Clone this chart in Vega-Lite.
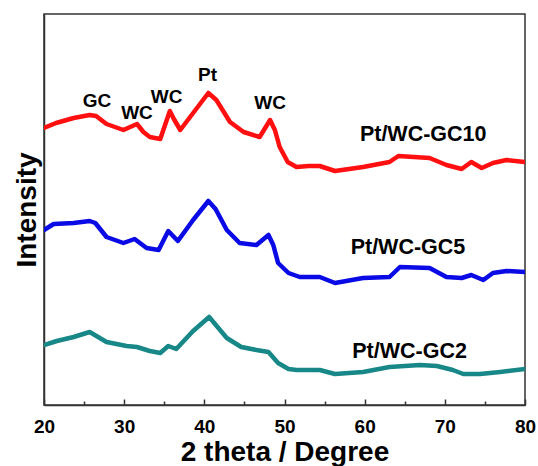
{
  "$schema": "https://vega.github.io/schema/vega-lite/v6.json",
  "autosize": "none",
  "width": 481,
  "height": 391,
  "padding": {"left": 44, "top": 14, "right": 13, "bottom": 61},
  "background": "white",
  "config": {
    "view": {"stroke": "#333333", "strokeWidth": 1.5},
    "font": "Liberation Sans"
  },
  "datasets": {
    "curves": [
      {"s": "GC10", "x": 20, "y": 277}, {"s": "GC10", "x": 21.5, "y": 282}, {"s": "GC10", "x": 23.7, "y": 287}, {"s": "GC10", "x": 25.7, "y": 290}, {"s": "GC10", "x": 26.5, "y": 289}, {"s": "GC10", "x": 27.8, "y": 281}, {"s": "GC10", "x": 29.9, "y": 275}, {"s": "GC10", "x": 31.6, "y": 281}, {"s": "GC10", "x": 32.4, "y": 273}, {"s": "GC10", "x": 33.2, "y": 268}, {"s": "GC10", "x": 34.5, "y": 266}, {"s": "GC10", "x": 35.7, "y": 294}, {"s": "GC10", "x": 36.2, "y": 286}, {"s": "GC10", "x": 37.0, "y": 275}, {"s": "GC10", "x": 38.7, "y": 293}, {"s": "GC10", "x": 40.5, "y": 312}, {"s": "GC10", "x": 41.5, "y": 305}, {"s": "GC10", "x": 43.2, "y": 283}, {"s": "GC10", "x": 44.9, "y": 273}, {"s": "GC10", "x": 46.9, "y": 268}, {"s": "GC10", "x": 48.2, "y": 285}, {"s": "GC10", "x": 48.8, "y": 275}, {"s": "GC10", "x": 49.4, "y": 258}, {"s": "GC10", "x": 50.4, "y": 243}, {"s": "GC10", "x": 51.5, "y": 238}, {"s": "GC10", "x": 53.0, "y": 239}, {"s": "GC10", "x": 54.4, "y": 239}, {"s": "GC10", "x": 56.3, "y": 234}, {"s": "GC10", "x": 59.8, "y": 238}, {"s": "GC10", "x": 63.1, "y": 243}, {"s": "GC10", "x": 64.2, "y": 249}, {"s": "GC10", "x": 68.1, "y": 247}, {"s": "GC10", "x": 70.2, "y": 240}, {"s": "GC10", "x": 72.1, "y": 236}, {"s": "GC10", "x": 73.3, "y": 243}, {"s": "GC10", "x": 74.6, "y": 237}, {"s": "GC10", "x": 76.0, "y": 242}, {"s": "GC10", "x": 77.7, "y": 245}, {"s": "GC10", "x": 80, "y": 243},
      {"s": "GC5", "x": 20, "y": 175}, {"s": "GC5", "x": 21.2, "y": 181}, {"s": "GC5", "x": 23.7, "y": 182}, {"s": "GC5", "x": 25.7, "y": 184}, {"s": "GC5", "x": 26.4, "y": 182}, {"s": "GC5", "x": 27.8, "y": 168}, {"s": "GC5", "x": 29.9, "y": 162}, {"s": "GC5", "x": 31.3, "y": 166}, {"s": "GC5", "x": 32.8, "y": 157}, {"s": "GC5", "x": 34.3, "y": 155}, {"s": "GC5", "x": 35.5, "y": 174}, {"s": "GC5", "x": 36.7, "y": 164}, {"s": "GC5", "x": 38.6, "y": 185}, {"s": "GC5", "x": 40.5, "y": 204}, {"s": "GC5", "x": 41.4, "y": 196}, {"s": "GC5", "x": 42.8, "y": 175}, {"s": "GC5", "x": 44.4, "y": 162}, {"s": "GC5", "x": 46.5, "y": 160}, {"s": "GC5", "x": 48.0, "y": 170}, {"s": "GC5", "x": 48.6, "y": 160}, {"s": "GC5", "x": 49.2, "y": 142}, {"s": "GC5", "x": 50.5, "y": 132}, {"s": "GC5", "x": 51.9, "y": 128}, {"s": "GC5", "x": 54.4, "y": 128}, {"s": "GC5", "x": 56.3, "y": 122}, {"s": "GC5", "x": 59.8, "y": 127}, {"s": "GC5", "x": 63.1, "y": 128}, {"s": "GC5", "x": 64.4, "y": 138}, {"s": "GC5", "x": 68.1, "y": 137}, {"s": "GC5", "x": 70.2, "y": 128}, {"s": "GC5", "x": 72.1, "y": 127}, {"s": "GC5", "x": 73.3, "y": 130}, {"s": "GC5", "x": 74.8, "y": 125}, {"s": "GC5", "x": 76.0, "y": 132}, {"s": "GC5", "x": 77.7, "y": 134}, {"s": "GC5", "x": 80, "y": 133},
      {"s": "GC2", "x": 20, "y": 60}, {"s": "GC2", "x": 21.6, "y": 64}, {"s": "GC2", "x": 23.7, "y": 68}, {"s": "GC2", "x": 25.7, "y": 73}, {"s": "GC2", "x": 27.8, "y": 63}, {"s": "GC2", "x": 30.3, "y": 59}, {"s": "GC2", "x": 31.6, "y": 58}, {"s": "GC2", "x": 33.2, "y": 54}, {"s": "GC2", "x": 34.5, "y": 52}, {"s": "GC2", "x": 35.5, "y": 59}, {"s": "GC2", "x": 36.5, "y": 56}, {"s": "GC2", "x": 38.6, "y": 74}, {"s": "GC2", "x": 40.6, "y": 88}, {"s": "GC2", "x": 42.8, "y": 67}, {"s": "GC2", "x": 44.6, "y": 58}, {"s": "GC2", "x": 46.5, "y": 55}, {"s": "GC2", "x": 48.0, "y": 53}, {"s": "GC2", "x": 49.2, "y": 42}, {"s": "GC2", "x": 50.5, "y": 36}, {"s": "GC2", "x": 51.5, "y": 35}, {"s": "GC2", "x": 54.4, "y": 35}, {"s": "GC2", "x": 56.3, "y": 31}, {"s": "GC2", "x": 59.8, "y": 33}, {"s": "GC2", "x": 63.1, "y": 38}, {"s": "GC2", "x": 66.9, "y": 40}, {"s": "GC2", "x": 69, "y": 39}, {"s": "GC2", "x": 71, "y": 35}, {"s": "GC2", "x": 72.3, "y": 31}, {"s": "GC2", "x": 74.4, "y": 31}, {"s": "GC2", "x": 76.9, "y": 33}, {"s": "GC2", "x": 80, "y": 36}
    ],
    "peaks": [
      {"x": 26.6, "y": 304, "t": "GC"},
      {"x": 31.6, "y": 292, "t": "WC"},
      {"x": 35.3, "y": 308, "t": "WC"},
      {"x": 40.4, "y": 330, "t": "Pt"},
      {"x": 48.2, "y": 302, "t": "WC"}
    ],
    "names": [
      {"x": 67.3, "y": 270, "t": "Pt/WC-GC10"},
      {"x": 65.4, "y": 157, "t": "Pt/WC-GC5"},
      {"x": 65.6, "y": 53, "t": "Pt/WC-GC2"}
    ]
  },
  "layer": [
    {
      "data": {"name": "curves"},
      "mark": {"type": "line", "strokeWidth": 4.5, "strokeJoin": "round", "strokeCap": "round", "clip": true},
      "encoding": {
        "x": {"field": "x", "type": "quantitative", "scale": {"domain": [20, 80], "nice": false},
          "axis": {"values": [20, 25, 30, 35, 40, 45, 50, 55, 60, 65, 70, 75, 80], "grid": false,
            "tickSize": {"condition": {"test": "datum.value % 10 === 0", "value": -6}, "value": -4},
            "tickWidth": 1.5, "tickColor": "#333333", "domainColor": "#333333", "domainWidth": 1.5,
            "labelExpr": "datum.value % 10 === 0 ? datum.label : ''",
            "labelFont": "Liberation Sans", "labelFontWeight": "bold", "labelFontSize": 19, "labelColor": "black", "labelPadding": 18, "labelFlush": false,
            "title": "2 theta / Degree", "titleFont": "Liberation Sans", "titleFontWeight": "bold", "titleFontSize": 28, "titleColor": "black", "titlePadding": 2}},
        "y": {"field": "y", "type": "quantitative", "scale": {"domain": [0, 391], "nice": false},
          "axis": {"ticks": false, "labels": false, "grid": false, "domainColor": "#333333", "domainWidth": 1.5,
            "title": "Intensity", "titleFont": "Liberation Sans", "titleFontWeight": "bold", "titleFontSize": 28, "titleColor": "black", "titlePadding": 3}},
        "color": {"field": "s", "type": "nominal", "legend": null,
          "scale": {"domain": ["GC10", "GC5", "GC2"], "range": ["#ff0f0f", "#0a0ae6", "#178787"]}},
        "detail": {"field": "s"}
      }
    },
    {
      "data": {"name": "peaks"},
      "mark": {"type": "text", "font": "Liberation Sans", "fontWeight": "bold", "fontSize": 19, "color": "black"},
      "encoding": {
        "x": {"field": "x", "type": "quantitative"},
        "y": {"field": "y", "type": "quantitative"},
        "text": {"field": "t"}
      }
    },
    {
      "data": {"name": "names"},
      "mark": {"type": "text", "font": "Liberation Sans", "fontWeight": "bold", "fontSize": 21.5, "color": "black"},
      "encoding": {
        "x": {"field": "x", "type": "quantitative"},
        "y": {"field": "y", "type": "quantitative"},
        "text": {"field": "t"}
      }
    }
  ]
}
